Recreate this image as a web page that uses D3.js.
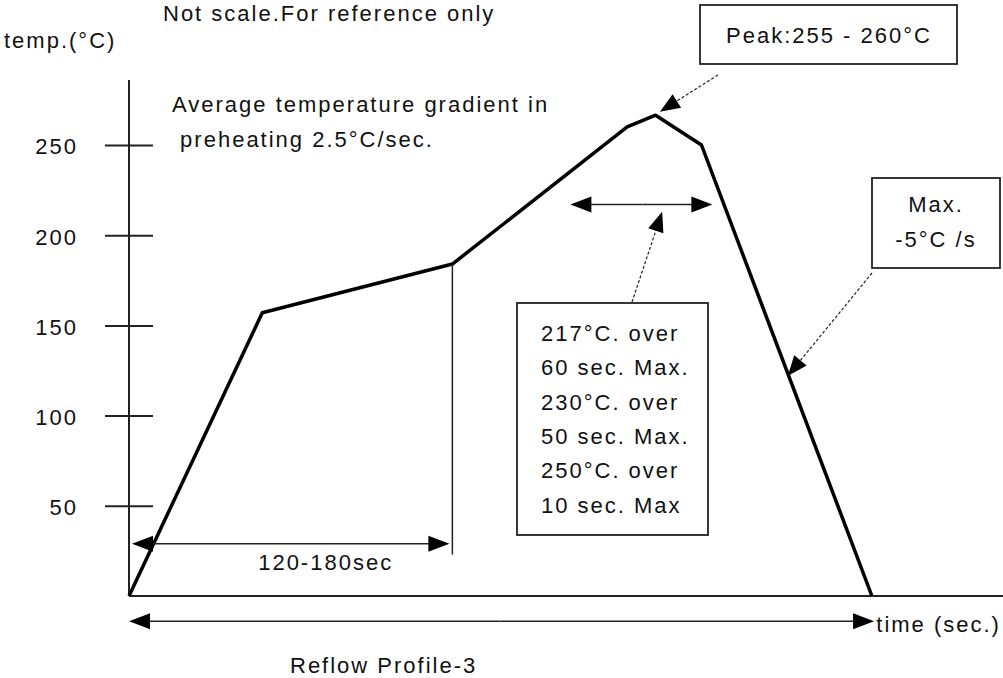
<!DOCTYPE html>
<html>
<head>
<meta charset="utf-8">
<script src="https://cdn.jsdelivr.net/npm/d3@7"></script>
<style>
  body { margin: 0; background: #fff; }
  text { font-family: "Liberation Sans", Arial, sans-serif; font-size: 22px; letter-spacing: 2px; fill: #111; }
</style>
</head>
<body>
<script>
// profile (time in sec, temp in °C) - "not to scale"
var profileTime = [0, 61, 148, 228, 241, 262, 340];
var profileTemp = [0, 157, 184, 260, 266.5, 250, 0];
var tempTicks = [50, 100, 150, 200, 250];

// annotation anchors, same units as the profile
var soakEnd = 148;          // end of preheat (vertical marker)
var soakArrowTemp = 29;
var talTemp = 217;
var talStart = 202, talEnd = 267;
var timeArrowTemp = -14, timeArrowEnd = 341;

var labels = {
  title: "Not scale.For reference only",
  yTitle: "temp.(°C)",
  gradient: ["Average temperature gradient in", " preheating 2.5°C/sec."],
  soak: "120-180sec",
  peak: "Peak:255 - 260°C",
  tal: ["217°C. over", "60 sec. Max.", "230°C. over", "50 sec. Max.", "250°C. over", "10 sec. Max"],
  cool: ["Max.", "-5°C /s"],
  xTitle: "time (sec.)",
  caption: "Reflow Profile-3"
};

var svgWidth = 1003, svgHeight = 678;

var svg = d3.select("body")
            .append("svg")
            .attr("width", svgWidth)
            .attr("height", svgHeight);

var xScale = d3.scaleLinear().domain([0, 400]).range([129, 1003]);
var yScale = d3.scaleLinear().domain([0, 250]).range([596, 145]);

var x0 = xScale(0), y0 = yScale(0);

// arrowhead helper: filled triangle pointing at (tx,ty) coming from (fx,fy)
function arrowHead(g, fx, fy, tx, ty, len, half) {
  var a = Math.atan2(ty - fy, tx - fx);
  var bx = tx - len * Math.cos(a), by = ty - len * Math.sin(a);
  var px = -Math.sin(a) * half, py = Math.cos(a) * half;
  g.append("path")
    .attr("d", `M${tx},${ty}L${bx + px},${by + py}L${bx - px},${by - py}Z`)
    .attr("fill", "#000");
}

function arrow(g, fx, fy, tx, ty, dashed) {
  var a = Math.atan2(ty - fy, tx - fx);
  g.append("line")
    .attr("x1", fx).attr("y1", fy)
    .attr("x2", tx - 10 * Math.cos(a)).attr("y2", ty - 10 * Math.sin(a))
    .attr("stroke", "#222")
    .attr("stroke-width", dashed ? 1.2 : 1.6)
    .attr("stroke-dasharray", dashed ? "3,2" : null);
  arrowHead(g, fx, fy, tx, ty, dashed ? 20 : 21, 8);
}

// axes
svg.append("line")
  .attr("x1", x0).attr("x2", x0)
  .attr("y1", 80).attr("y2", y0)
  .attr("stroke", "#222").attr("stroke-width", 2);

svg.append("line")
  .attr("x1", x0).attr("x2", svgWidth)
  .attr("y1", y0).attr("y2", y0)
  .attr("stroke", "#222").attr("stroke-width", 2);

var leftAxis = d3.axisLeft(yScale)
  .tickValues(tempTicks)
  .tickSizeInner(24)
  .tickSizeOuter(0)
  .tickPadding(27);

var yAxisG = svg.append("g")
  .attr("transform", `translate(${x0},0)`)
  .call(leftAxis);
yAxisG.select(".domain").remove();
yAxisG.selectAll(".tick line")
  .attr("x1", -24).attr("x2", 24)
  .attr("stroke", "#222").attr("stroke-width", 2);
yAxisG.selectAll(".tick text")
  .attr("dy", "0.4em")
  .style("font-family", "'Liberation Sans', Arial, sans-serif")
  .style("font-size", "22px")
  .style("letter-spacing", "2px")
  .attr("fill", "#111");

// profile line
var profile = profileTime.map((t, i) => ({t: t, temp: profileTemp[i]}));
var line = d3.line()
  .x(d => xScale(d.t))
  .y(d => yScale(d.temp));

svg.append("path")
  .datum(profile)
  .attr("d", line)
  .attr("fill", "none")
  .attr("stroke", "#000")
  .attr("stroke-width", 3.5)
  .attr("stroke-linejoin", "round");

var ann = svg.append("g");

// soak marker + 120-180sec arrow
ann.append("line")
  .attr("x1", xScale(soakEnd)).attr("x2", xScale(soakEnd))
  .attr("y1", yScale(184)).attr("y2", yScale(23))
  .attr("stroke", "#222").attr("stroke-width", 1.5);
var ys = yScale(soakArrowTemp);
arrow(ann, xScale(75), ys, x0 + 3, ys, false);
arrow(ann, xScale(75), ys, xScale(soakEnd) - 3, ys, false);
ann.append("text")
  .attr("x", xScale(90)).attr("y", yScale(14.5))
  .attr("text-anchor", "middle")
  .text(labels.soak);

// time arrow under the axis
var yt = yScale(timeArrowTemp);
arrow(ann, xScale(170), yt, x0, yt, false);
arrow(ann, xScale(170), yt, xScale(timeArrowEnd), yt, false);
ann.append("text")
  .attr("x", xScale(342)).attr("y", 632)
  .text(labels.xTitle);

// time above liquidus arrow
var yl = yScale(talTemp);
arrow(ann, xScale(235), yl, xScale(talStart), yl, false);
arrow(ann, xScale(235), yl, xScale(talEnd), yl, false);

// TAL box
ann.append("rect")
  .attr("x", 517).attr("y", 303).attr("width", 191).attr("height", 232)
  .attr("fill", "none").attr("stroke", "#222").attr("stroke-width", 1.8);
ann.selectAll(".tal")
  .data(labels.tal)
  .enter()
  .append("text")
  .attr("x", 541)
  .attr("y", (d, i) => 341 + i * 34.3)
  .text(d => d);
arrow(ann, 632, 302, xScale(244), yScale(213), true);

// peak box
ann.append("rect")
  .attr("x", 700).attr("y", 5).attr("width", 257).attr("height", 59)
  .attr("fill", "none").attr("stroke", "#222").attr("stroke-width", 1.8);
ann.append("text")
  .attr("x", 829).attr("y", 43)
  .attr("text-anchor", "middle")
  .text(labels.peak);
arrow(ann, 718, 75, xScale(243), yScale(268.5), true);

// cooling box
ann.append("rect")
  .attr("x", 872).attr("y", 178).attr("width", 128).attr("height", 90)
  .attr("fill", "none").attr("stroke", "#222").attr("stroke-width", 1.8);
ann.selectAll(".cool")
  .data(labels.cool)
  .enter()
  .append("text")
  .attr("x", 936)
  .attr("y", (d, i) => 212 + i * 35)
  .attr("text-anchor", "middle")
  .text(d => d);
arrow(ann, 872, 273, xScale(301.5), yScale(122), true);

// titles and notes
svg.append("text").attr("x", 163).attr("y", 21).text(labels.title);
svg.append("text").attr("x", 4).attr("y", 48).text(labels.yTitle);
svg.selectAll(".grad")
  .data(labels.gradient)
  .enter()
  .append("text")
  .attr("x", 172)
  .attr("y", (d, i) => 112 + i * 35)
  .attr("xml:space", "preserve")
  .style("white-space", "pre")
  .text(d => d);
svg.append("text").attr("x", 290).attr("y", 673).text(labels.caption);
</script>
</body>
</html>
